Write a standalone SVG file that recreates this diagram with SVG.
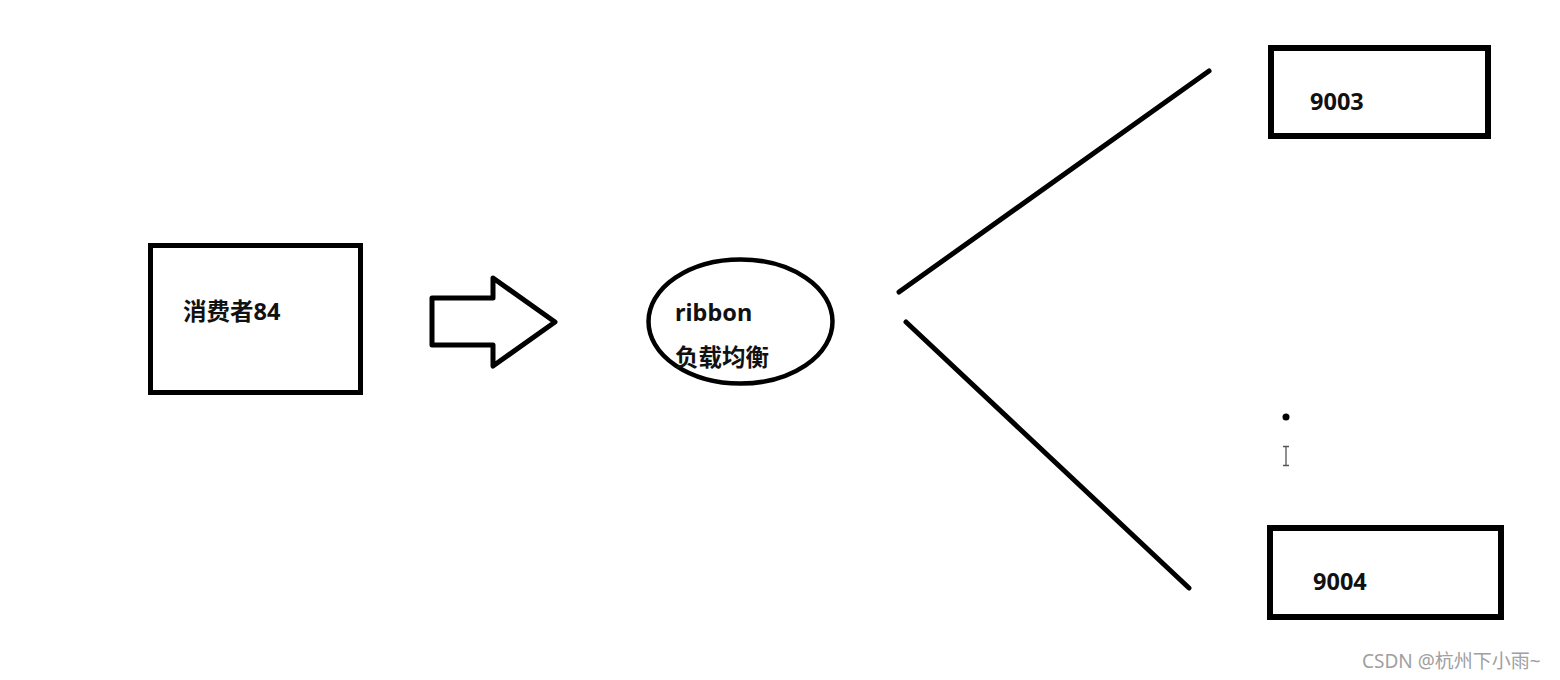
<svg xmlns="http://www.w3.org/2000/svg" width="1560" height="680" viewBox="0 0 1560 680">
<style>
.box{fill:none;stroke:#000;stroke-width:5}
.lbl{font-family:"Noto Sans","Noto Sans CJK SC",sans-serif;font-weight:bold;font-size:23.5px;fill:#111}
.conn{stroke:#000;stroke-width:5;stroke-linecap:round;fill:none}
.wm{font-family:"Noto Sans","Noto Sans CJK SC",sans-serif;font-size:19px;fill:#a0a0a0}
</style>
<rect width="1560" height="680" fill="#fff"/>
<g id="consumer">
<rect class="box" x="150.5" y="245.5" width="210" height="147"/>
<text class="lbl" x="183" y="320">消费者84</text>
</g>
<g id="arrow">
<polygon points="432,298 493,298 493,278 555,322 493,366 493,345 432,345" fill="none" stroke="#000" stroke-width="5" stroke-linejoin="round"/>
</g>
<g id="ribbon">
<ellipse cx="740.5" cy="321.5" rx="92" ry="62" fill="none" stroke="#000" stroke-width="4.5"/>
<text class="lbl" x="675" y="321">ribbon</text>
<text class="lbl" x="675" y="366">负载均衡</text>
</g>
<g id="connectors">
<line class="conn" x1="899" y1="292" x2="1209" y2="71"/>
<line class="conn" x1="906" y1="322" x2="1189" y2="588"/>
</g>
<g id="s9003">
<rect x="1271" y="48" width="217" height="88" fill="none" stroke="#000" stroke-width="6"/>
<text class="lbl" x="1310" y="110">9003</text>
</g>
<g id="s9004">
<rect x="1270" y="528" width="231" height="89" fill="none" stroke="#000" stroke-width="6"/>
<text class="lbl" x="1313" y="590">9004</text>
</g>
<circle cx="1286" cy="417" r="3.5" fill="#000"/>
<path d="M1283 446.5H1289M1286 446.5V465.5M1283 465.5H1289" stroke="#555" stroke-width="1.3" fill="none"/>
<text class="wm" x="1362" y="668">CSDN @杭州下小雨~</text>
</svg>
